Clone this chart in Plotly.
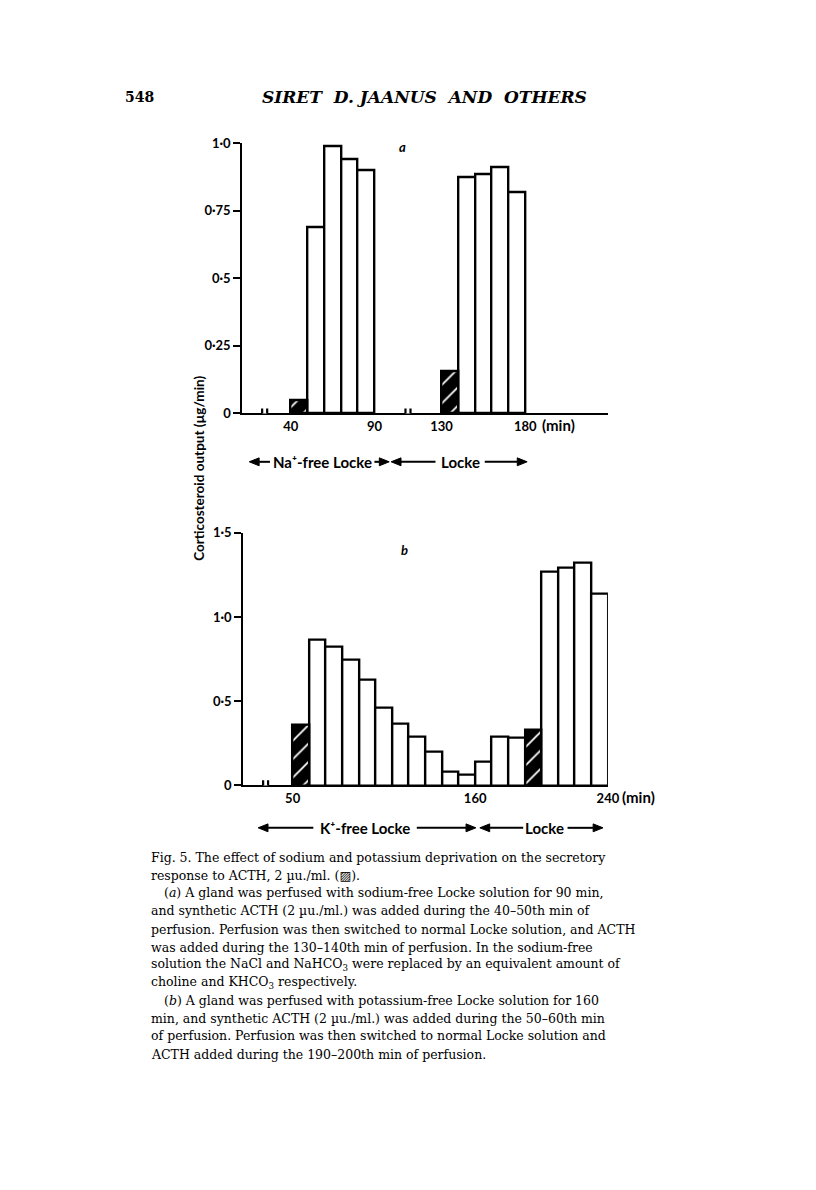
import plotly.graph_objects as go

W, H = 816, 1190

# ---------------- data ----------------
# Panel a: Na+-free Locke then Locke (bin start, min)
a_minutes = [40, 50, 60, 70, 80, 130, 140, 150, 160, 170]
a_output = [0.05, 0.69, 0.99, 0.94, 0.90, 0.155, 0.875, 0.885, 0.91, 0.82]
a_acth = [40, 130]

# Panel b: K+-free Locke then Locke
b_minutes = [50, 60, 70, 80, 90, 100, 110, 120, 130, 140, 150, 160, 170, 180, 190, 200, 210, 220, 230]
b_output = [0.36, 0.865, 0.825, 0.745, 0.625, 0.46, 0.365, 0.29, 0.20, 0.08, 0.065,
            0.14, 0.29, 0.285, 0.33, 1.27, 1.29, 1.32, 1.14]
b_acth = [50, 190]

a_yticks = [0, 0.25, 0.5, 0.75, 1.0]
a_yticktext = ["0", "0·25", "0·5", "0·75", "1·0"]
b_yticks = [0, 0.5, 1.0, 1.5]
b_yticktext = ["0", "0·5", "1·0", "1·5"]
a_xticks = [40, 90, 130, 180]
a_xticktext = ["40", "90", "130", "180"]
b_xticks = [50, 160, 240]
b_xticktext = ["50", "160", "240"]

BIN = 10


def px(x):
    return x / W


def py(y):
    return 1 - y / H


SANS = "Lato"
SERIF = "DejaVu Serif"

fig = go.Figure()


def add_bars(minutes, output, acth, xa, ya):
    plain_x = [m for m in minutes if m not in acth]
    plain_y = [v for m, v in zip(minutes, output) if m not in acth]
    h_x = [m for m in minutes if m in acth]
    h_y = [v for m, v in zip(minutes, output) if m in acth]
    fig.add_trace(go.Bar(x=plain_x, y=plain_y, width=BIN, offset=0,
                         marker=dict(color="white", line=dict(color="black", width=2.4)),
                         xaxis=xa, yaxis=ya, showlegend=False, hoverinfo="skip"))
    fig.add_trace(go.Bar(x=h_x, y=h_y, width=BIN, offset=0,
                         marker=dict(color="black", line=dict(color="black", width=2.4),
                                     pattern=dict(shape="/", fgcolor="white", bgcolor="black",
                                                  size=13, solidity=0.14, fillmode="replace")),
                         xaxis=xa, yaxis=ya, showlegend=False, hoverinfo="skip"))


add_bars(a_minutes, a_output, a_acth, "x", "y")
add_bars(b_minutes, b_output, b_acth, "x2", "y2")

tickfont = dict(family=SANS, size=13, color="black", weight="bold")
common_x = dict(showgrid=False, zeroline=False, showline=True, linecolor="black", linewidth=2.2,
                ticks="", tickfont=tickfont, fixedrange=True)
common_y = dict(showgrid=False, zeroline=False, showline=True, linecolor="black", linewidth=2.2,
                ticks="outside", ticklen=7, tickwidth=2.2, tickcolor="black", tickfont=tickfont,
                fixedrange=True)

fig.update_layout(
    autosize=True,
    margin=dict(l=0, r=0, t=0, b=0),
    paper_bgcolor="white", plot_bgcolor="white",
    bargap=0,
    xaxis=dict(domain=[px(246), px(617)], range=[11.1, 229.4], anchor="y",
               tickvals=a_xticks, ticktext=a_xticktext, **common_x),
    yaxis=dict(domain=[py(411), py(137)], range=[0, 1.0], anchor="x",
               tickvals=a_yticks, ticktext=a_yticktext, **common_y),
    xaxis2=dict(domain=[px(247), px(617)], range=[20.3, 240], anchor="y2",
                tickvals=b_xticks, ticktext=b_xticktext, **common_x),
    yaxis2=dict(domain=[py(788), py(532)], range=[0, 1.5], anchor="x2",
                tickvals=b_yticks, ticktext=b_yticktext, **common_y),
)

shapes = []


# axis breaks
def add_break(xc, xref, yref, half_gap, dy):
    shapes.append(dict(type="rect", xref=xref, yref=yref, x0=xc - half_gap, x1=xc + half_gap,
                       y0=-dy * 0.5, y1=dy * 0.5, fillcolor="white", line=dict(width=0), layer="above"))
    for xx in (xc - half_gap, xc + half_gap):
        shapes.append(dict(type="line", xref=xref, yref=yref, x0=xx, x1=xx, y0=-dy, y1=dy,
                           line=dict(color="black", width=2.2), layer="above"))


add_break(24.4, "x", "y", 1.5, 0.018)
add_break(110.0, "x", "y", 1.5, 0.018)
add_break(33.7, "x2", "y2", 1.5, 0.03)


# solution-period arrows (line + filled head), drawn as shapes in page pixels
def arrow(tip, tail, y):
    d = 1 if tail > tip else -1
    head_len, head_half = 10, 4
    base = tip + d * head_len
    shapes.append(dict(type="line", xref="paper", yref="paper", x0=px(base), x1=px(tail),
                       y0=py(y), y1=py(y), line=dict(color="black", width=2)))
    path = "M {:.5f},{:.5f} L {:.5f},{:.5f} L {:.5f},{:.5f} Z".format(
        px(tip), py(y), px(base), py(y - head_half), px(base), py(y + head_half))
    shapes.append(dict(type="path", xref="paper", yref="paper", path=path,
                       fillcolor="black", line=dict(color="black", width=1)))


arrow(253, 274, 460)
arrow(395, 380, 460)
arrow(397, 442, 460)
arrow(535, 492, 460)
arrow(262, 318, 831)
arrow(483, 423, 831)
arrow(487, 531, 831)
arrow(612, 576, 831)

fig.update_layout(shapes=shapes)

ann = []
lab = dict(family=SANS, size=15, color="black", weight="bold")


def txt(x, y, text, font, xanchor="center", **kw):
    ann.append(dict(x=px(x), y=py(y), xref="paper", yref="paper", text=text, showarrow=False,
                    xanchor=xanchor, yanchor="middle", font=font, **kw))


# (min) units
txt(548, 423, "(min)", lab, xanchor="left")
txt(629, 800, "(min)", lab, xanchor="left")

# panel letters
txt(408, 141, "<i>a</i>", dict(family=SANS, size=13, color="black", weight="bold"))
txt(411, 549, "<i>b</i>", dict(family=SANS, size=13, color="black", weight="bold"))

# y title
txt(202, 467, "Corticosteroid output (µg/min)",
    dict(family=SANS, size=13.5, color="black", weight="bold"), textangle=-90)

# solution labels
txt(327, 460, "Na⁺-free Locke", lab)
txt(467, 460, "Locke", lab)
txt(370, 831, "K⁺-free Locke", lab)
txt(553, 831, "Locke", lab)

# page header
txt(125, 90, "<b>548</b>", dict(family=SERIF, size=14, color="black"), xanchor="left")
txt(431, 90, "<b><i>SIRET  D. JAANUS  AND  OTHERS</i></b>",
    dict(family=SERIF, size=17, color="black"))

# caption
caption = [
    (151, 861, "Fig. 5. The effect of sodium and potassium deprivation on the secretory"),
    (151, 879, "response to ACTH, 2 µu./ml. (▨)."),
    (164, 897, "(<i>a</i>) A gland was perfused with sodium-free Locke solution for 90 min,"),
    (151, 915, "and synthetic ACTH (2 µu./ml.) was added during the 40–50th min of"),
    (151, 934, "perfusion. Perfusion was then switched to normal Locke solution, and ACTH"),
    (151, 952, "was added during the 130–140th min of perfusion. In the sodium-free"),
    (151, 970, "solution the NaCl and NaHCO<sub>3</sub> were replaced by an equivalent amount of"),
    (151, 988, "choline and KHCO<sub>3</sub> respectively."),
    (164, 1006, "(<i>b</i>) A gland was perfused with potassium-free Locke solution for 160"),
    (151, 1024, "min, and synthetic ACTH (2 µu./ml.) was added during the 50–60th min"),
    (151, 1042, "of perfusion. Perfusion was then switched to normal Locke solution and"),
    (151, 1061, "ACTH added during the 190–200th min of perfusion."),
]
for x0, y0, t in caption:
    txt(x0, y0, t, dict(family=SERIF, size=12.5, color="black"), xanchor="left")

fig.update_layout(annotations=ann)

post = (
    "document.documentElement.style.margin='0';"
    "document.documentElement.style.overflow='hidden';"
    "document.body.style.margin='0';"
    "document.body.style.overflow='hidden';"
    "Plotly.Plots.resize(document.getElementById('{plot_id}'));"
)
fig.write_html("out.html", default_width="100vw", default_height="100vh",
               config={"displayModeBar": False, "responsive": True}, post_script=post)
